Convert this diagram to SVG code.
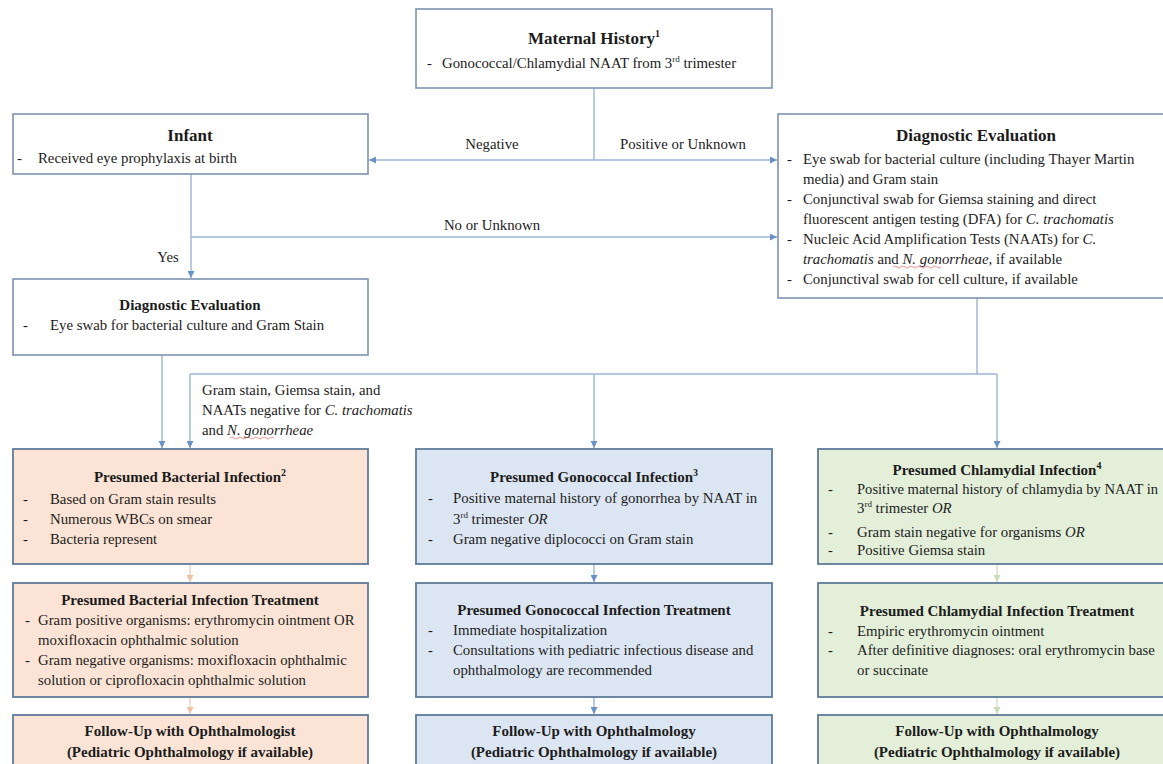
<svg xmlns="http://www.w3.org/2000/svg" width="1163" height="764" viewBox="0 0 1163 764">
<style>
text{font-family:"Liberation Serif","Times New Roman",serif;fill:#1c1c1c;font-size:14.8px}
.t{font-weight:bold;text-anchor:middle;font-size:15px}
.big{font-size:17px}
.i{font-style:italic}
.box{fill:#fff;stroke:#7d93b0;stroke-width:1.6}
.pe{fill:#fbe4d5;stroke:#5f7a99;stroke-width:1.8}
.bl{fill:#dce6f2;stroke:#5f7a99;stroke-width:1.8}
.gr{fill:#e3efd9;stroke:#5f7a99;stroke-width:1.8}
.c{fill:none;stroke:#9cb5d4;stroke-width:1.4}
.cp{fill:none;stroke:#f3cdb3;stroke-width:1.4}
.cg{fill:none;stroke:#cfe0c2;stroke-width:1.4}
.sq{fill:none;stroke:#e06666;stroke-width:0.7}
</style>
<defs>
<marker id="a" viewBox="0 0 10 10" refX="10" refY="5" markerWidth="8" markerHeight="7" markerUnits="userSpaceOnUse" orient="auto"><path d="M0,0L10,5L0,10z" fill="#6a92c6"/></marker>
<marker id="ap" viewBox="0 0 10 10" refX="10" refY="5" markerWidth="8" markerHeight="7" markerUnits="userSpaceOnUse" orient="auto"><path d="M0,0L10,5L0,10z" fill="#f0c3a4"/></marker>
<marker id="ag" viewBox="0 0 10 10" refX="10" refY="5" markerWidth="8" markerHeight="7" markerUnits="userSpaceOnUse" orient="auto"><path d="M0,0L10,5L0,10z" fill="#c8dcb6"/></marker>
</defs>
<rect width="1163" height="764" fill="#fff"/>

<g id="connectors">
<path class="c" d="M594,88V160"/>
<path class="c" d="M594,160H369" marker-end="url(#a)"/>
<path class="c" d="M594,160H777" marker-end="url(#a)"/>
<path class="c" d="M191,174V278" marker-end="url(#a)"/>
<path class="c" d="M191,237H777" marker-end="url(#a)"/>
<path class="c" d="M162,355V448" marker-end="url(#a)"/>
<path class="c" d="M977,298V374"/>
<path class="c" d="M190,374H997"/>
<path class="c" d="M190,374V448" marker-end="url(#a)"/>
<path class="c" d="M594,374V448" marker-end="url(#a)"/>
<path class="c" d="M997,374V448" marker-end="url(#a)"/>
<path class="cp" d="M190,564V582" marker-end="url(#ap)"/>
<path class="cp" d="M190,697V714" marker-end="url(#ap)"/>
<path class="c" d="M594,564V582" marker-end="url(#a)"/>
<path class="c" d="M594,697V714" marker-end="url(#a)"/>
<path class="cg" d="M997,564V582" marker-end="url(#ag)"/>
<path class="cg" d="M997,697V714" marker-end="url(#ag)"/>
</g>

<g id="labels">
<text x="492" y="149" text-anchor="middle">Negative</text>
<text x="683" y="149" text-anchor="middle">Positive or Unknown</text>
<text x="492" y="230" text-anchor="middle">No or Unknown</text>
<text x="168" y="262" text-anchor="middle">Yes</text>
<text x="202" y="395">Gram stain, Giemsa stain, and</text>
<text x="202" y="415">NAATs negative for <tspan class="i">C. trachomatis</tspan></text>
<text x="202" y="435">and <tspan class="i">N. gonorrheae</tspan></text>
<path class="sq" d="M230,438q2,-2 4,0t4,0t4,0t4,0t4,0t4,0t4,0t4,0t4,0t4,0t4,0"/>
</g>

<g id="maternal">
<rect class="box" x="416" y="9" width="356" height="79"/>
<text class="t big" x="594" y="44">Maternal History<tspan font-size="10" dy="-7">1</tspan></text>
<text x="427" y="68">-</text>
<text x="442" y="68">Gonococcal/Chlamydial NAAT from 3<tspan font-size="9" dy="-6">rd</tspan><tspan dy="6"> trimester</tspan></text>
</g>

<g id="infant">
<rect class="box" x="13" y="114" width="355" height="60"/>
<text class="t big" x="190" y="141">Infant</text>
<text x="17" y="163">-</text>
<text x="38" y="163">Received eye prophylaxis at birth</text>
</g>

<g id="diag-right">
<rect class="box" x="778" y="114" width="400" height="184"/>
<text class="t big" x="976" y="141">Diagnostic Evaluation</text>
<text x="787" y="164">-</text>
<text x="803" y="164">Eye swab for bacterial culture (including Thayer Martin</text>
<text x="803" y="184">media) and Gram stain</text>
<text x="787" y="204">-</text>
<text x="803" y="204">Conjunctival swab for Giemsa staining and direct</text>
<text x="803" y="224">fluorescent antigen testing (DFA) for <tspan class="i">C. trachomatis</tspan></text>
<text x="787" y="244">-</text>
<text x="803" y="244">Nucleic Acid Amplification Tests (NAATs) for <tspan class="i">C.</tspan></text>
<text x="803" y="264"><tspan class="i">trachomatis</tspan> and <tspan class="i">N. gonorrheae,</tspan> if available</text>
<path class="sq" d="M893,267q2,-2 4,0t4,0t4,0t4,0t4,0t4,0t4,0t4,0t4,0t4,0t4,0t4,0"/>
<text x="787" y="284">-</text>
<text x="803" y="284">Conjunctival swab for cell culture, if available</text>
</g>

<g id="diag-left">
<rect class="box" x="13" y="279" width="355" height="76"/>
<text class="t" x="190" y="310">Diagnostic Evaluation</text>
<text x="23" y="330">-</text>
<text x="50" y="330">Eye swab for bacterial culture and Gram Stain</text>
</g>

<g id="bacterial">
<rect class="pe" x="13" y="449" width="355" height="115"/>
<text class="t" x="190" y="482">Presumed Bacterial Infection<tspan font-size="10" dy="-6">2</tspan></text>
<text x="23" y="504">-</text><text x="50" y="504">Based on Gram stain results</text>
<text x="23" y="524">-</text><text x="50" y="524">Numerous WBCs on smear</text>
<text x="23" y="544">-</text><text x="50" y="544">Bacteria represent</text>
</g>

<g id="bacterial-tx">
<rect class="pe" x="13" y="583" width="355" height="114"/>
<text class="t" x="190" y="605">Presumed Bacterial Infection Treatment</text>
<text x="25" y="625">-</text><text x="38" y="625">Gram positive organisms: erythromycin ointment OR</text>
<text x="38" y="645">moxifloxacin ophthalmic solution</text>
<text x="25" y="665">-</text><text x="38" y="665">Gram negative organisms: moxifloxacin ophthalmic</text>
<text x="38" y="685">solution or ciprofloxacin ophthalmic solution</text>
</g>

<g id="bacterial-fu">
<rect class="pe" x="13" y="715" width="355" height="60"/>
<text class="t" x="190" y="736">Follow-Up with Ophthalmologist</text>
<text class="t" x="190" y="757">(Pediatric Ophthalmology if available)</text>
</g>

<g id="gonococcal">
<rect class="bl" x="416" y="449" width="356" height="115"/>
<text class="t" x="594" y="482">Presumed Gonococcal Infection<tspan font-size="10" dy="-6">3</tspan></text>
<text x="428" y="503">-</text><text x="453" y="503">Positive maternal history of gonorrhea by NAAT in</text>
<text x="453" y="524">3<tspan font-size="9" dy="-6">rd</tspan><tspan dy="6"> trimester </tspan><tspan class="i">OR</tspan></text>
<text x="428" y="544">-</text><text x="453" y="544">Gram negative diplococci on Gram stain</text>
</g>

<g id="gonococcal-tx">
<rect class="bl" x="416" y="583" width="356" height="114"/>
<text class="t" x="594" y="615">Presumed Gonococcal Infection Treatment</text>
<text x="428" y="635">-</text><text x="453" y="635">Immediate hospitalization</text>
<text x="428" y="655">-</text><text x="453" y="655">Consultations with pediatric infectious disease and</text>
<text x="453" y="675">ophthalmology are recommended</text>
</g>

<g id="gonococcal-fu">
<rect class="bl" x="416" y="715" width="356" height="60"/>
<text class="t" x="594" y="736">Follow-Up with Ophthalmology</text>
<text class="t" x="594" y="757">(Pediatric Ophthalmology if available)</text>
</g>

<g id="chlamydial">
<rect class="gr" x="818" y="449" width="360" height="115"/>
<text class="t" x="997" y="475">Presumed Chlamydial Infection<tspan font-size="10" dy="-6">4</tspan></text>
<text x="828" y="494">-</text><text x="857" y="494" textLength="301" lengthAdjust="spacingAndGlyphs">Positive maternal history of chlamydia by NAAT in</text>
<text x="857" y="513">3<tspan font-size="9" dy="-6">rd</tspan><tspan dy="6"> trimester </tspan><tspan class="i">OR</tspan></text>
<text x="828" y="537">-</text><text x="857" y="537">Gram stain negative for organisms <tspan class="i">OR</tspan></text>
<text x="828" y="555">-</text><text x="857" y="555">Positive Giemsa stain</text>
</g>

<g id="chlamydial-tx">
<rect class="gr" x="818" y="583" width="360" height="114"/>
<text class="t" x="997" y="616">Presumed Chlamydial Infection Treatment</text>
<text x="828" y="636">-</text><text x="857" y="636">Empiric erythromycin ointment</text>
<text x="828" y="655">-</text><text x="857" y="655">After definitive diagnoses: oral erythromycin base</text>
<text x="857" y="675">or succinate</text>
</g>

<g id="chlamydial-fu">
<rect class="gr" x="818" y="715" width="360" height="60"/>
<text class="t" x="997" y="736">Follow-Up with Ophthalmology</text>
<text class="t" x="997" y="757">(Pediatric Ophthalmology if available)</text>
</g>
</svg>
